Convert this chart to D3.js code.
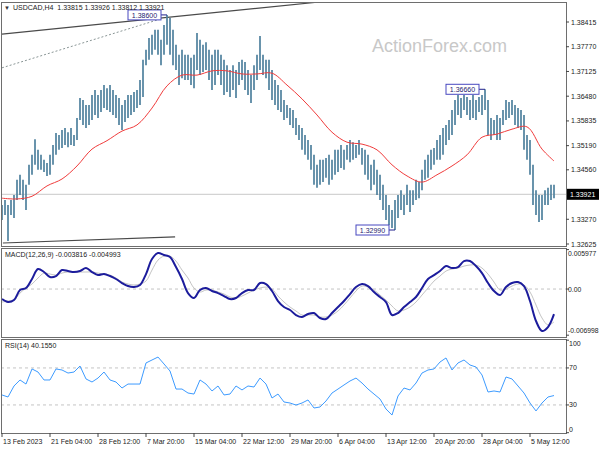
<!DOCTYPE html>
<html><head><meta charset="utf-8">
<script src="https://cdn.jsdelivr.net/npm/d3@7"></script>
<style>body{margin:0;background:#fff}svg{display:block;font-family:"Liberation Sans",Arial,sans-serif}</style>
</head><body><svg id="c" width="600" height="450"></svg>
<script>
// ---------------- data ----------------
const symbol = "USDCAD,H4";
const lastOHLC = ["1.33815", "1.33926", "1.33812", "1.33921"];
const lastClose = 1.33921;
const high = [1.3364,1.3377,1.3364,1.3377,1.3390,1.3430,1.3443,1.3430,1.3417,1.3469,
 1.3495,1.3536,1.3508,1.3495,1.3482,1.3474,1.3495,1.3521,1.3552,1.3547,
 1.3560,1.3565,1.3554,1.3565,1.3547,1.3591,1.3643,1.3638,1.3625,1.3625,
 1.3651,1.3664,1.3651,1.3664,1.3677,1.3669,1.3677,1.3664,1.3651,1.3643,
 1.3625,1.3638,1.3651,1.3651,1.3659,1.3664,1.3690,1.3743,1.3769,1.3800,
 1.3808,1.3821,1.3821,1.3795,1.3834,1.3860,1.3852,1.3821,1.3782,1.3756,
 1.3769,1.3756,1.3756,1.3748,1.3756,1.3813,1.3795,1.3782,1.3789,1.3769,
 1.3756,1.3769,1.3769,1.3756,1.3743,1.3729,1.3716,1.3729,1.3716,1.3737,
 1.3743,1.3737,1.3716,1.3703,1.3729,1.3756,1.3805,1.3756,1.3743,1.3743,
 1.3716,1.3690,1.3677,1.3664,1.3638,1.3625,1.3617,1.3612,1.3591,1.3573,
 1.3565,1.3547,1.3534,1.3521,1.3495,1.3469,1.3482,1.3482,1.3487,1.3495,
 1.3482,1.3508,1.3508,1.3521,1.3508,1.3521,1.3534,1.3528,1.3521,1.3534,
 1.3513,1.3508,1.3495,1.3469,1.3482,1.3456,1.3443,1.3417,1.3390,1.3364,
 1.3351,1.3377,1.3390,1.3403,1.3390,1.3417,1.3403,1.3403,1.3430,1.3424,
 1.3456,1.3482,1.3495,1.3508,1.3513,1.3534,1.3547,1.3565,1.3573,1.3586,
 1.3612,1.3638,1.3651,1.3643,1.3651,1.3646,1.3638,1.3651,1.3638,1.3646,
 1.3651,1.3666,1.3638,1.3591,1.3586,1.3599,1.3591,1.3612,1.3638,1.3633,
 1.3638,1.3625,1.3617,1.3612,1.3599,1.3547,1.3534,1.3469,1.3403,1.3390,
 1.3390,1.3403,1.3409,1.3417,1.3417];
const low = [1.3325,1.3338,1.3270,1.3338,1.3330,1.3377,1.3390,1.3377,1.3351,1.3417,
 1.3443,1.3469,1.3456,1.3456,1.3450,1.3440,1.3443,1.3469,1.3495,1.3508,
 1.3513,1.3521,1.3515,1.3521,1.3518,1.3534,1.3586,1.3573,1.3565,1.3573,
 1.3586,1.3599,1.3591,1.3607,1.3617,1.3612,1.3607,1.3599,1.3591,1.3573,
 1.3560,1.3581,1.3591,1.3599,1.3607,1.3617,1.3625,1.3646,1.3729,1.3743,
 1.3756,1.3769,1.3756,1.3729,1.3756,1.3782,1.3756,1.3729,1.3716,1.3677,
 1.3695,1.3690,1.3690,1.3677,1.3669,1.3716,1.3703,1.3711,1.3716,1.3690,
 1.3664,1.3677,1.3703,1.3677,1.3651,1.3659,1.3646,1.3664,1.3643,1.3677,
 1.3690,1.3664,1.3651,1.3630,1.3664,1.3690,1.3716,1.3703,1.3695,1.3664,
 1.3638,1.3625,1.3612,1.3607,1.3586,1.3591,1.3573,1.3565,1.3547,1.3534,
 1.3508,1.3495,1.3482,1.3456,1.3417,1.3409,1.3417,1.3424,1.3435,1.3417,
 1.3430,1.3443,1.3450,1.3461,1.3456,1.3482,1.3476,1.3482,1.3487,1.3495,
 1.3469,1.3443,1.3430,1.3403,1.3417,1.3390,1.3377,1.3351,1.3325,1.3312,
 1.3304,1.3299,1.3330,1.3351,1.3338,1.3364,1.3346,1.3364,1.3377,1.3382,
 1.3403,1.3430,1.3435,1.3456,1.3469,1.3482,1.3482,1.3495,1.3521,1.3534,
 1.3547,1.3573,1.3599,1.3591,1.3612,1.3599,1.3586,1.3591,1.3586,1.3607,
 1.3599,1.3612,1.3547,1.3534,1.3547,1.3534,1.3534,1.3573,1.3586,1.3591,
 1.3599,1.3573,1.3565,1.3560,1.3508,1.3482,1.3443,1.3364,1.3338,1.3320,
 1.3325,1.3364,1.3364,1.3377,1.3382];
// moving average, one value every 5 bars plus the last bar
const maBars = [0,5,10,15,20,25,30,35,40,45,50,55,60,65,70,75,80,85,90,95,100,105,110,115,120,125,130,135,140,145,150,155,160,165,170,175,180,184];
const ma = [1.3382,1.3380,1.3387,1.3414,1.3432,1.3466,1.3510,1.3532,1.3557,1.3573,
 1.3617,1.3675,1.3703,1.3703,1.3714,1.3714,1.3706,1.3706,1.3708,1.3677,
 1.3641,1.3599,1.3554,1.3528,1.3523,1.3508,1.3469,1.3440,1.3424,1.3443,
 1.3466,1.3495,1.3541,1.3549,1.3562,1.3568,1.3510,1.3479];
// indicators, one value every 2 bars
const macd = [-0.00152,-0.00197,-0.00167,-0.00015,0.00015,0.00152,0.00303,0.00258,0.00182,0.00197,
 0.00288,0.00273,0.00258,0.00273,0.00318,0.00258,0.00212,0.00227,0.00197,0.00152,
 0.00091,0.00045,0.00030,0.00061,0.00227,0.00455,0.00545,0.00515,0.00485,0.00333,
 0.00152,-0.00061,-0.00136,-0.00015,0.00015,-0.00030,-0.00061,-0.00106,-0.00152,-0.00136,
 -0.00061,-0.00015,-0.00015,0.00091,0.00076,-0.00030,-0.00182,-0.00273,-0.00318,-0.00394,
 -0.00424,-0.00379,-0.00364,-0.00439,-0.00455,-0.00364,-0.00273,-0.00182,-0.00076,0.00030,
 0.00076,0.00045,-0.00045,-0.00121,-0.00197,-0.00394,-0.00364,-0.00273,-0.00197,-0.00121,
 0.00015,0.00152,0.00212,0.00273,0.00348,0.00318,0.00333,0.00424,0.00424,0.00348,
 0.00242,0.00091,-0.00030,-0.00091,0.00030,0.00091,0.00106,0.00045,-0.00182,-0.00485,
 -0.00636,-0.00576,-0.003816];
const signal = [-0.00197,-0.00182,-0.00167,-0.00061,0.00015,0.00076,0.00167,0.00242,0.00227,0.00212,
 0.00242,0.00258,0.00258,0.00258,0.00258,0.00258,0.00242,0.00227,0.00212,0.00167,
 0.00106,0.00076,0.00061,0.00076,0.00121,0.00288,0.00439,0.00500,0.00500,0.00424,
 0.00288,0.00167,0.00015,-0.00045,-0.00015,-0.00015,-0.00045,-0.00076,-0.00121,-0.00136,
 -0.00106,-0.00061,-0.00015,0.00015,0.00030,0.00000,-0.00106,-0.00197,-0.00273,-0.00333,
 -0.00394,-0.00394,-0.00394,-0.00424,-0.00424,-0.00394,-0.00333,-0.00242,-0.00136,-0.00030,
 0.00045,0.00030,-0.00015,-0.00091,-0.00167,-0.00258,-0.00333,-0.00318,-0.00273,-0.00197,
 -0.00091,0.00015,0.00121,0.00197,0.00273,0.00303,0.00318,0.00348,0.00364,0.00364,
 0.00318,0.00227,0.00106,-0.00015,0.00000,0.00045,0.00076,0.00061,-0.00045,-0.00242,
 -0.00439,-0.00545,-0.004993];
const rsi = [40.8,38.6,50.5,57.0,52.6,68.9,65.6,57.0,57.0,68.9,
 67.8,64.5,65.6,72.1,58.1,54.8,59.1,65.6,57.0,54.8,
 48.3,52.6,52.6,52.6,75.4,78.6,81.8,74.3,66.7,47.2,
 47.2,42.9,41.8,57.0,52.6,45.1,50.5,40.8,41.8,50.5,
 46.2,50.5,49.4,59.1,52.6,37.5,41.8,33.2,32.1,29.9,
 32.1,35.4,26.7,27.8,34.3,42.9,47.2,51.6,55.9,59.1,
 53.7,47.2,41.8,36.4,25.6,19.1,39.7,48.3,46.2,53.7,
 64.5,67.8,68.9,76.4,80.8,67.8,75.4,78.6,73.2,71.0,
 62.4,44.0,45.1,44.0,60.2,58.1,50.5,42.9,32.1,23.5,
 32.1,38.6,40.155];
const indStep = 2;
const priceTicks = ["1.38415","1.37770","1.37125","1.36480","1.35835","1.35190","1.34560","1.33270","1.32625"];
const macdTicks = ["0.005977","0.00","-0.006998"];
const rsiTicks = ["100","70","30","0"];
const rsiLevels = [70, 30];
const timeLabels = ["13 Feb 2023","21 Feb 04:00","28 Feb 12:00","7 Mar 20:00","15 Mar 04:00","22 Mar 12:00","29 Mar 20:00","6 Apr 04:00","13 Apr 12:00","20 Apr 20:00","28 Apr 04:00","5 May 12:00"];
const barsPerLabel = 16;
const markers = [{bar:55, price:1.38600, text:"1.38600"},{bar:131, price:1.32990, text:"1.32990"},{bar:161, price:1.36660, text:"1.36660"}];
const trendSolid = [[[0,1.3810],[120,1.3905]], [[0.3,1.3265],[57.7,1.3281]]];
const trendDashed = [[0,1.3722],[52.7,1.3849]];
const macdName = "MACD(12,26,9) -0.003816 -0.004993";
const rsiName = "RSI(14) 40.1550";

// ---------------- drawing ----------------
const svg = d3.select("#c");
const font = 7;
const x = d3.scaleLinear().domain([0, high.length - 1]).range([2, 554]);
const yP = d3.scaleLinear().domain([1.32625, 1.38415]).range([244, 22]);
const yM = d3.scaleLinear().domain([-0.006998, 0.005977]).range([335.2, 249.6]);
const yR = d3.scaleLinear().domain([0, 100]).range([432.7, 340.2]);
const P = {x0: 1, x1: 566};
const main = {y0: 2, y1: 246}, pM = {y0: 248, y1: 337}, pR = {y0: 339, y1: 433};

const defs = svg.append("defs");
[["cm", main], ["cmacd", pM], ["crsi", pR]].forEach(([id, p]) => {
  defs.append("clipPath").attr("id", id).append("rect")
    .attr("x", P.x0).attr("y", p.y0).attr("width", P.x1 - P.x0).attr("height", p.y1 - p.y0);
});

// watermark
svg.append("text").attr("x", 372).attr("y", 52).attr("font-size", 18).attr("fill", "#c8c8c8")
  .text("ActionForex.com");

const gMain = svg.append("g").attr("clip-path", "url(#cm)");
// current price line
gMain.append("line").attr("x1", P.x0).attr("x2", P.x1).attr("y1", yP(lastClose)).attr("y2", yP(lastClose))
  .attr("stroke", "#c8c8c8").attr("stroke-width", 1);
// trend lines
const tl = d3.line().x(d => x(d[0])).y(d => yP(d[1]));
trendSolid.forEach(t => gMain.append("path").attr("d", tl(t)).attr("fill", "none").attr("stroke", "#4a4a4a").attr("stroke-width", 1.1));
gMain.append("path").attr("d", tl(trendDashed)).attr("fill", "none").attr("stroke", "#8a9696").attr("stroke-width", 1).attr("stroke-dasharray", "2,2");
// bars
gMain.append("g").selectAll("line").data(high).join("line")
  .attr("x1", (d, i) => x(i)).attr("x2", (d, i) => x(i))
  .attr("y1", d => yP(d)).attr("y2", (d, i) => yP(low[i]))
  .attr("stroke", "#4f819e").attr("stroke-width", 1.7);
// MA
gMain.append("path").datum(ma).attr("fill", "none").attr("stroke", "#f03c3c").attr("stroke-width", 1)
  .attr("d", d3.line().x((d, i) => x(maBars[i])).y(d => yP(d)).curve(d3.curveCatmullRom));
// markers
markers.forEach(m => {
  const bx = x(m.bar) - 6 - 33, by = yP(m.price) - 5;
  gMain.append("line").attr("x1", bx + 33).attr("x2", x(m.bar)).attr("y1", yP(m.price)).attr("y2", yP(m.price))
    .attr("stroke", "#20208c").attr("stroke-width", 1);
  gMain.append("rect").attr("x", bx).attr("y", by).attr("width", 33).attr("height", 10)
    .attr("fill", "#fff").attr("stroke", "#4848c0").attr("stroke-width", 1);
  gMain.append("text").attr("x", bx + 16.5).attr("y", by + 8).attr("text-anchor", "middle")
    .attr("font-size", font).attr("fill", "#1c1c70").text(m.text);
});

// MACD
const gM = svg.append("g").attr("clip-path", "url(#cmacd)");
gM.append("line").attr("x1", P.x0).attr("x2", P.x1).attr("y1", yM(0)).attr("y2", yM(0))
  .attr("stroke", "#c4c4c4").attr("stroke-dasharray", "3,3");
gM.append("path").datum(signal).attr("fill", "none").attr("stroke", "#c4c4c4").attr("stroke-width", 1)
  .attr("d", d3.line().x((d, i) => x(i * indStep)).y(d => yM(d)).curve(d3.curveCatmullRom));
gM.append("path").datum(macd).attr("fill", "none").attr("stroke", "#1c1c9c").attr("stroke-width", 2)
  .attr("d", d3.line().x((d, i) => x(i * indStep)).y(d => yM(d)).curve(d3.curveCatmullRom));

// RSI
const gR = svg.append("g").attr("clip-path", "url(#crsi)");
rsiLevels.forEach(l => gR.append("line").attr("x1", P.x0).attr("x2", P.x1).attr("y1", yR(l)).attr("y2", yR(l))
  .attr("stroke", "#c4c4c4").attr("stroke-dasharray", "3,3"));
gR.append("path").datum(rsi).attr("fill", "none").attr("stroke", "#3d9bff").attr("stroke-width", 1)
  .attr("d", d3.line().x((d, i) => x(i * indStep)).y(d => yR(d)));

// panel frames
[main, pM, pR].forEach(p => svg.append("rect").attr("x", P.x0 + 0.5).attr("y", p.y0 + 0.5)
  .attr("width", P.x1 - P.x0).attr("height", p.y1 - p.y0).attr("fill", "none").attr("stroke", "#6e6e6e").attr("stroke-width", 1));

// right axes
function rightLabels(ticks, scale, dx, offs, fs) {
  ticks.forEach((t, i) => {
    const yy = scale(+t);
    svg.append("line").attr("x1", P.x1).attr("x2", P.x1 + 3).attr("y1", yy).attr("y2", yy).attr("stroke", "#444");
    svg.append("text").attr("x", P.x1 + dx).attr("y", yy + 2.5 + (offs ? offs[i] : 0))
      .attr("font-size", fs || font).attr("fill", "#222").text(t);
  });
}
rightLabels(priceTicks, yP, 5);
rightLabels(macdTicks, yM, 2, [4, 0, -5], 6.8);
rightLabels(rsiTicks, yR, 3, [3, 0, 0, -3]);
// current price box
svg.append("rect").attr("x", P.x1 + 1).attr("y", yP(lastClose) - 5.5).attr("width", 32).attr("height", 11).attr("fill", "#000");
svg.append("text").attr("x", P.x1 + 4).attr("y", yP(lastClose) + 2.5).attr("font-size", font).attr("fill", "#fff").text(lastClose.toFixed(5));

// time axis
timeLabels.forEach((t, i) => {
  const xx = x(i * barsPerLabel);
  svg.append("line").attr("x1", xx).attr("x2", xx).attr("y1", pR.y1).attr("y2", pR.y1 + 4).attr("stroke", "#444");
  svg.append("text").attr("x", xx + 1).attr("y", 444).attr("font-size", font).attr("fill", "#222").text(t);
});

// headers
svg.append("text").attr("x", 4).attr("y", 10).attr("font-size", 6).attr("fill", "#333").text("▼");
svg.append("text").attr("x", 13).attr("y", 10).attr("font-size", font).attr("fill", "#222")
  .attr("xml:space", "preserve").text(symbol + "  " + lastOHLC.join(" "));
svg.append("text").attr("x", 5).attr("y", 257).attr("font-size", font).attr("fill", "#222").text(macdName);
svg.append("text").attr("x", 5).attr("y", 348).attr("font-size", font).attr("fill", "#222").text(rsiName);
</script></body></html>
